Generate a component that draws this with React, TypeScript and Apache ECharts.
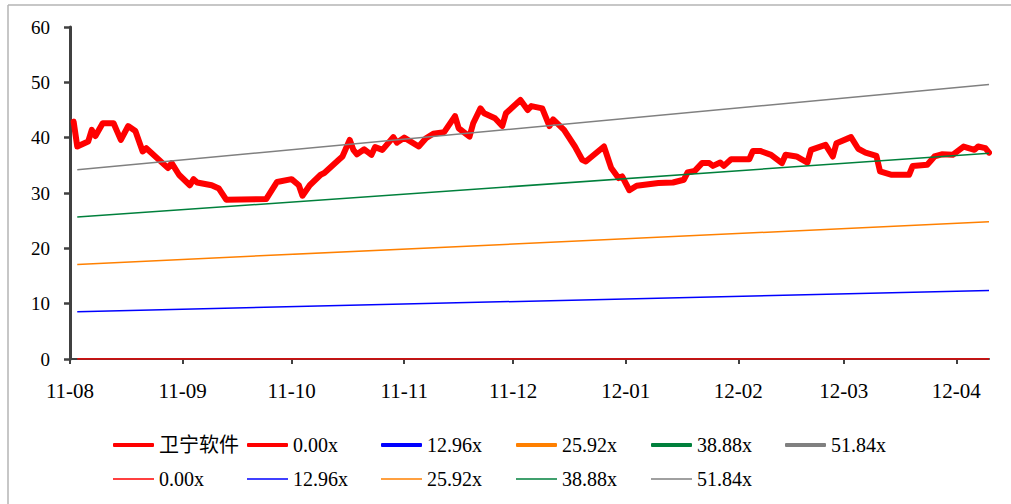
import React, { useEffect, useRef } from "react";
import * as echarts from "echarts";

// ---- data ----
const priceDates = [
  "2011-08-02", "2011-08-03", "2011-08-06", "2011-08-07", "2011-08-08", "2011-08-10", "2011-08-13", "2011-08-14",
  "2011-08-15", "2011-08-17", "2011-08-19", "2011-08-21", "2011-08-22", "2011-08-28", "2011-08-29", "2011-08-31",
  "2011-09-03", "2011-09-04", "2011-09-05", "2011-09-09", "2011-09-11", "2011-09-13", "2011-09-24", "2011-09-27",
  "2011-10-01", "2011-10-03", "2011-10-04", "2011-10-06", "2011-10-09", "2011-10-10", "2011-10-14", "2011-10-15",
  "2011-10-17", "2011-10-18", "2011-10-19", "2011-10-21", "2011-10-23", "2011-10-24", "2011-10-26", "2011-10-29",
  "2011-10-30", "2011-11-01", "2011-11-05", "2011-11-07", "2011-11-09", "2011-11-12", "2011-11-15", "2011-11-16",
  "2011-11-19", "2011-11-20", "2011-11-22", "2011-11-23", "2011-11-26", "2011-11-28", "2011-11-29", "2011-12-03",
  "2011-12-05", "2011-12-06", "2011-12-09", "2011-12-11", "2011-12-12", "2011-12-15", "2011-12-18", "2011-12-20",
  "2011-12-21", "2011-12-26", "2011-12-28", "2011-12-30", "2011-12-31", "2012-01-02", "2012-01-04", "2012-01-10",
  "2012-01-14", "2012-01-17", "2012-01-18", "2012-01-20", "2012-01-22", "2012-01-24", "2012-01-25", "2012-01-27",
  "2012-01-28", "2012-01-30", "2012-02-04", "2012-02-05", "2012-02-07", "2012-02-10", "2012-02-13", "2012-02-14",
  "2012-02-17", "2012-02-20", "2012-02-21", "2012-02-25", "2012-02-27", "2012-02-28", "2012-03-03", "2012-03-05",
  "2012-03-07", "2012-03-10", "2012-03-11", "2012-03-14", "2012-03-19", "2012-03-20", "2012-03-24", "2012-03-26",
  "2012-03-28", "2012-03-31", "2012-04-03", "2012-04-06", "2012-04-07", "2012-04-09", "2012-04-10",
];
const priceValues = [
  42.9, 38.4, 39.3, 41.4, 40.3, 42.6, 42.6, 41.1,
  39.6, 42.1, 41.2, 37.5, 38.1, 34.5, 35.4, 33.3,
  31.4, 32.5, 31.9, 31.4, 30.8, 28.8, 28.9, 32.0,
  32.5, 31.4, 29.5, 31.4, 33.3, 33.6, 36.0, 36.6,
  39.6, 37.8, 37.0, 37.9, 36.9, 38.3, 37.8, 40.1,
  39.1, 40.0, 38.4, 39.9, 40.7, 41.0, 43.9, 41.7,
  40.2, 42.6, 45.3, 44.4, 43.5, 42.1, 44.4, 46.8,
  45.0, 45.7, 45.3, 42.1, 43.3, 41.4, 38.4, 36.0,
  35.7, 38.4, 34.5, 32.7, 33.0, 30.5, 31.3, 31.8,
  31.9, 32.4, 33.7, 34.0, 35.4, 35.4, 34.9, 35.5,
  34.9, 36.1, 36.1, 37.6, 37.6, 36.9, 35.4, 36.9,
  36.6, 35.5, 37.8, 38.7, 36.6, 39.0, 40.1, 38.0,
  37.3, 36.7, 33.9, 33.3, 33.3, 34.9, 35.1, 36.6,
  37.0, 36.9, 38.4, 37.8, 38.4, 38.1, 37.3,
];

const bandNames = ["0.00x", "12.96x", "25.92x", "38.88x", "51.84x"];
const bandColors = ["#ff0000", "#0000ff", "#ff8000", "#00803c", "#808080"];
const bandDates = ["2011-08-03", "2012-04-10"];
const bandStart = [0, 8.55, 17.1, 25.65, 34.2];
const bandEnd = [0, 12.4, 24.8, 37.2, 49.6];

const monthTicks = [
  "2011-08-01", "2011-09-01", "2011-10-01", "2011-11-01", "2011-12-01",
  "2012-01-01", "2012-02-01", "2012-03-01", "2012-04-01",
];
const xMin = "2011-08-01";
const xMax = "2012-04-10";

const DAY = 86400000;
const ts = (s: string) => {
  const [y, m, d] = s.split("-").map(Number);
  return Date.UTC(y, m - 1, d);
};
// days since xMin (the x axis is a day count, labelled by month)
const dayOf = (s: string) => Math.round((ts(s) - ts(xMin)) / DAY);
const fmtMonth = (v: number) => {
  const d = new Date(ts(xMin) + Math.round(v) * DAY);
  const yy = String(d.getUTCFullYear() % 100).padStart(2, "0");
  const mm = String(d.getUTCMonth() + 1).padStart(2, "0");
  return `${yy}-${mm}`;
};

const FONT = "'Liberation Serif', 'Times New Roman', 'Noto Sans CJK SC', serif";

export default function App() {
  const ref = useRef<HTMLDivElement>(null);
  useEffect(() => {
    if (!ref.current) return;
    const chart = echarts.init(ref.current, undefined, { renderer: "svg" });

    const series: any[] = [];
    series.push({
      name: "卫宁软件",
      type: "line",
      data: priceDates.map((d, i) => [dayOf(d), priceValues[i]]),
      showSymbol: false,
      symbol: "none",
      color: "#ff0000",
      lineStyle: { width: 6, color: "#ff0000", cap: "round", join: "round" },
      z: 3,
    });
    bandNames.forEach((n, i) => {
      series.push({
        name: n,
        type: "line",
        data: [],
        symbol: "none",
        color: bandColors[i],
        lineStyle: { width: 4, color: bandColors[i] },
      });
    });
    bandNames.forEach((n, i) => {
      series.push({
        name: n + "#thin",
        type: "line",
        data: [
          [dayOf(bandDates[0]), bandStart[i]],
          [dayOf(bandDates[1]), bandEnd[i]],
        ],
        symbol: "none",
        showSymbol: false,
        color: bandColors[i],
        lineStyle: { width: 1.5, color: bandColors[i] },
        z: 4,
      });
    });

    const colX = [113, 247, 381, 516, 651, 785];
    const legendText = {
      fontFamily: FONT,
      fontSize: 20,
      color: "#000",
      lineHeight: 24,
    };
    const legends: any[] = [];
    const row1 = ["卫宁软件", ...bandNames];
    row1.forEach((n, i) => {
      legends.push({
        data: [n],
        left: colX[i],
        top: 445 - 12,
        padding: 0,
        icon: "roundRect",
        itemWidth: 41,
        itemHeight: 4,
        itemGap: 0,
        selectedMode: false,
        textStyle: legendText,
        formatter: (name: string) => name.split("#")[0],
      });
    });
    bandNames.forEach((n, i) => {
      legends.push({
        data: [n + "#thin"],
        left: colX[i],
        top: 479 - 12,
        padding: 0,
        icon: "rect",
        itemWidth: 41,
        itemHeight: 1.5,
        itemGap: 0,
        selectedMode: false,
        textStyle: legendText,
        formatter: (name: string) => name.split("#")[0],
      });
    });

    const tickDays = monthTicks.map(dayOf);

    chart.setOption({
      animation: false,
      backgroundColor: "#ffffff",
      grid: {
        left: 70,
        right: 22,
        top: 27,
        bottom: 145,
        containLabel: false,
        outerBoundsMode: "none",
      },
      xAxis: {
        type: "value",
        min: 0,
        max: dayOf(xMax),
        axisLine: { show: true, onZero: false, lineStyle: { color: "#404040", width: 2 } },
        axisTick: {
          show: true,
          customValues: tickDays,
          length: 5,
          lineStyle: { color: "#404040", width: 2 },
        },
        axisLabel: {
          customValues: tickDays,
          formatter: (v: number) => fmtMonth(v),
          fontFamily: FONT,
          fontSize: 21,
          color: "#000",
          margin: 21,
        },
        splitLine: { show: false },
      },
      yAxis: {
        type: "value",
        min: 0,
        max: 60,
        interval: 10,
        axisLine: { show: true, lineStyle: { color: "#404040", width: 3 } },
        axisTick: { show: true, length: 6, lineStyle: { color: "#404040", width: 2.5 } },
        axisLabel: {
          fontFamily: FONT,
          fontSize: 19,
          color: "#000",
          margin: 20,
        },
        splitLine: { show: false },
      },
      legend: legends,
      series,
      graphic: [
        {
          type: "line",
          shape: { x1: 8, y1: 5, x2: 1011, y2: 5 },
          style: { stroke: "#b4b4b4", lineWidth: 1.5 },
          silent: true,
        },
        {
          type: "line",
          shape: { x1: 8, y1: 5, x2: 8, y2: 504 },
          style: { stroke: "#b4b4b4", lineWidth: 1.5 },
          silent: true,
        },
      ],
    });
    return () => chart.dispose();
  }, []);
  return (
    <div
      ref={ref}
      style={{ position: "absolute", left: 0, top: 0, width: 1011, height: 504 }}
    />
  );
}
